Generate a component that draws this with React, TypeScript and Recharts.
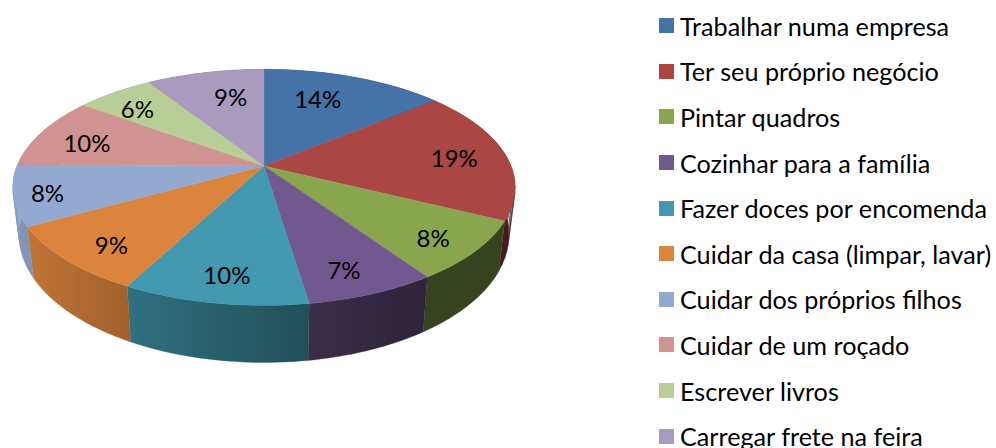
import { Legend, Pie, PieChart } from "recharts";

const categories = [
    "Trabalhar numa empresa",
    "Ter seu próprio negócio",
    "Pintar quadros",
    "Cozinhar para a família",
    "Fazer doces por encomenda",
    "Cuidar da casa (limpar, lavar)",
    "Cuidar dos próprios filhos",
    "Cuidar de um roçado",
    "Escrever livros",
    "Carregar frete na feira",
];
const shares = [14, 18.3, 8.2, 7.1, 10.1, 9.2, 8.3, 9.8, 6, 9];
const labels = ["14%", "19%", "8%", "7%", "10%", "9%", "8%", "10%", "6%", "9%"];
const colors = ["#4572a7", "#aa4643", "#89a54e", "#71588f", "#4198af", "#db843d", "#93a9cf", "#d19392", "#b9cd96", "#a99bbd"];

const rows = categories.map((name, i) => ({ name, value: shares[i], fill: colors[i] }));

const FONT = "Lato, 'Open Sans', sans-serif";
const WIDTH = 996;
const HEIGHT = 448;
const CX = 264;
const CY = 166;
const RADIUS = 247;

// perspective: the near edge of the disc is drawn bigger than the far edge
const K = 0.181;
const SQUASH = 114.6 / 248;

// excel nudges some labels away from the common radius
const labelNudge = [[-19, 4], [2, 2], [9, 7], [-1, 8], [0, 7], [-3, 8], [-23, 4], [-2, 3], [-7, 1], [14, 6]];

// angle is in recharts degrees (counter clockwise from 3 o'clock), r is 0..1
const project = (R: number, angle: number, r = 1) => {
    const t = (angle * Math.PI) / 180;
    const u = r * Math.cos(t);
    const v = -r * Math.sin(t);
    const w = 1 - K * v;
    return { X: (R * u) / w, Y: (R * SQUASH * v) / w };
};

const rimPoints = (p: any) => {
    const steps = 24;
    const pts = [];
    for (let i = 0; i <= steps; i++) {
        const a = p.startAngle + ((p.endAngle - p.startAngle) * i) / steps;
        pts.push(project(p.outerRadius, a));
    }
    return pts;
};

const shade = (hex: string, f: number) => {
    const n = parseInt(hex.slice(1), 16);
    const c = [(n >> 16) & 255, (n >> 8) & 255, n & 255].map((x) => Math.round(x * f));
    return `rgb(${c.join(",")})`;
};

const wallLight = [
    [0, 0.9],
    [0.24, 0.73],
    [0.59, 0.51],
    [0.82, 0.41],
    [1, 0.4],
];

const Top = (p: any) => {
    const pts = rimPoints(p);
    const d = `M${p.cx},${p.cy} ` + pts.map((q) => `L${p.cx + q.X},${p.cy + q.Y}`).join(" ") + " Z";
    return <path d={d} fill={p.fill} stroke={p.fill} strokeWidth={0.4} />;
};

const Wall = (p: any) => {
    const pts = rimPoints(p);
    const up = pts.map((q) => `${p.cx + q.X},${p.cy + q.Y}`);
    const low = pts.map((q) => `${p.cx + 0.975 * q.X},${p.cy + 1.08 * q.Y + 46}`);
    // one quad per rim step, so that the silhouette at the far left and right stays filled
    const d = up.slice(1).map((_, i) => `M${up[i]} L${up[i + 1]} L${low[i + 1]} L${low[i]} Z`).join(" ");
    const id = `wall-${p.index}`;
    return (
        <g>
            <linearGradient id={id} gradientUnits="userSpaceOnUse" x1={12} x2={516} y1={0} y2={0}>
                {wallLight.map(([o, f]) => (
                    <stop key={o} offset={o} stopColor={shade(p.fill, f)} />
                ))}
            </linearGradient>
            <path d={d} fill={`url(#${id})`} stroke={`url(#${id})`} strokeWidth={0.3} />
        </g>
    );
};

const sliceLabel = (p: any) => {
    const q = project(p.outerRadius, p.midAngle, 0.78);
    const [dx, dy] = labelNudge[p.index];
    return (
        <text x={p.cx + q.X + dx} y={p.cy + q.Y + dy} textAnchor="middle" dominantBaseline="central" fontFamily={FONT} fontSize={24} fill="#000">
            {labels[p.index]}
        </text>
    );
};

const LegendList = ({ payload }: any) => {
    const seen = new Set();
    const items = (payload || []).filter((item: any) => {
        if (seen.has(item.value)) return false;
        seen.add(item.value);
        return true;
    });
    return (
        <div>
            {items.map((item: any) => (
                <div key={item.value} style={{ display: "flex", alignItems: "center", height: 45.6, whiteSpace: "nowrap", fontFamily: FONT, fontSize: 25.2, color: "#000" }}>
                    <span style={{ width: 15, height: 15, background: item.color, marginRight: 6, flex: "none" }} />
                    {item.value}
                </div>
            ))}
        </div>
    );
};

export default function App() {
    return (
        <div style={{ position: "absolute", left: 0, top: 0, width: WIDTH, height: HEIGHT, overflow: "hidden", background: "#fff" }}>
            <PieChart width={WIDTH} height={HEIGHT} margin={{ top: 0, right: 0, bottom: 0, left: 0 }}>
                <Pie data={rows} dataKey="value" nameKey="name" cx={CX} cy={CY} outerRadius={RADIUS} startAngle={90} endAngle={-270} shape={Wall} legendType="none" isAnimationActive={false} />
                <Pie data={rows} dataKey="value" nameKey="name" cx={CX} cy={CY} outerRadius={RADIUS} startAngle={90} endAngle={-270} shape={Top} label={sliceLabel} labelLine={false} isAnimationActive={false} />
                <Legend content={LegendList} itemSorter={null} layout="vertical" wrapperStyle={{ position: "absolute", left: 659, top: 3, width: 337 }} />
            </PieChart>
        </div>
    );
}
